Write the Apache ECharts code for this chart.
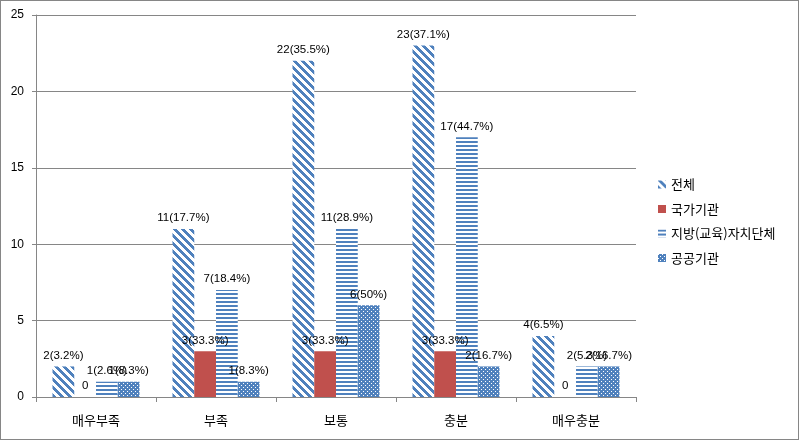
<!DOCTYPE html>
<html><head><meta charset="utf-8">
<script src="https://cdn.jsdelivr.net/npm/echarts@6/dist/echarts.min.js"></script>
<style>
html,body{margin:0;padding:0;background:#fff;}
#c{width:799px;height:440px;box-sizing:border-box;border:1px solid #868686;}
</style></head><body>
<div id="c"></div>
<script>
const categories = ['매우부족','부족','보통','충분','매우충분'];
const seriesNames = ['전체','국가기관','지방(교육)자치단체','공공기관'];
const totalVals = [2,11,22,23,4];
const totalLabels = ['2(3.2%)','11(17.7%)','22(35.5%)','23(37.1%)','4(6.5%)'];
const nationVals = [0,3,3,3,0];
const nationLabels = ['0','3(33.3%)','3(33.3%)','3(33.3%)','0'];
const localVals = [1,7,11,17,2];
const localLabels = ['1(2.6%)','7(18.4%)','11(28.9%)','17(44.7%)','2(5.3%)'];
const publicVals = [1,1,6,2,2];
const publicLabels = ['1(8.3%)','1(8.3%)','6(50%)','2(16.7%)','2(16.7%)'];
const yTicks = [0,5,10,15,20,25];

const BLUE = [79,129,189];
function makePattern(w,h,fn){
  const cv=document.createElement('canvas');cv.width=w;cv.height=h;
  const ctx=cv.getContext('2d');const img=ctx.createImageData(w,h);
  for(let y=0;y<h;y++)for(let x=0;x<w;x++){
    const i=(y*w+x)*4;const b=fn(x,y);
    img.data[i]=b?BLUE[0]:255;img.data[i+1]=b?BLUE[1]:255;img.data[i+2]=b?BLUE[2]:255;img.data[i+3]=255;
  }
  ctx.putImageData(img,0,0);return {image:cv,repeat:'repeat'};
}
const diag = makePattern(8,8,(x,y)=>(((x-y)%8)+8)%8<4);
const horiz = makePattern(4,4,(x,y)=>y<2);
const dots = makePattern(4,4,(x,y)=>!((x===0&&y===0)||(x===2&&y===2)));

const chart = echarts.init(document.getElementById('c'));
const latin = '"Liberation Sans", "Noto Sans CJK KR", sans-serif';
const kr = '"Noto Sans CJK KR", sans-serif';
function mk(name,vals,labels,color){
  return {name,type:'bar',data:vals,barGap:'0%',barCategoryGap:'27.5%',
    itemStyle:{color},
    label:{show:true,position:'top',distance:5,color:'#000',fontSize:11.5,fontFamily:latin,
      formatter:p=>labels[p.dataIndex]},
    emphasis:{disabled:true},animation:false};
}
chart.setOption({
  animation:false,
  textStyle:{fontFamily:kr},
  grid:{left:35,right:162,top:14,bottom:42,containLabel:false},
  legend:{orient:'vertical',left:652,top:172,itemWidth:8,itemHeight:8,itemGap:11.5,
    icon:'rect',textStyle:{fontSize:13,color:'#000',fontFamily:kr},data:seriesNames},
  xAxis:{type:'category',data:categories,
    axisLine:{lineStyle:{color:'#868686'}},
    axisTick:{show:true,length:5,lineStyle:{color:'#868686'}},
    axisLabel:{color:'#000',fontSize:13,margin:17,fontFamily:kr}},
  yAxis:{type:'value',min:0,max:25,interval:5,
    axisLine:{show:true,lineStyle:{color:'#868686'}},
    axisTick:{show:true,length:4,lineStyle:{color:'#868686'}},
    axisLabel:{color:'#000',fontSize:12,margin:12,fontFamily:latin,formatter:v=>yTicks.includes(v)?String(v):''},
    splitLine:{lineStyle:{color:'#868686'}}},
  series:[
    mk(seriesNames[0],totalVals,totalLabels,diag),
    mk(seriesNames[1],nationVals,nationLabels,'#C0504D'),
    mk(seriesNames[2],localVals,localLabels,horiz),
    mk(seriesNames[3],publicVals,publicLabels,dots)
  ]
});
</script></body></html>
